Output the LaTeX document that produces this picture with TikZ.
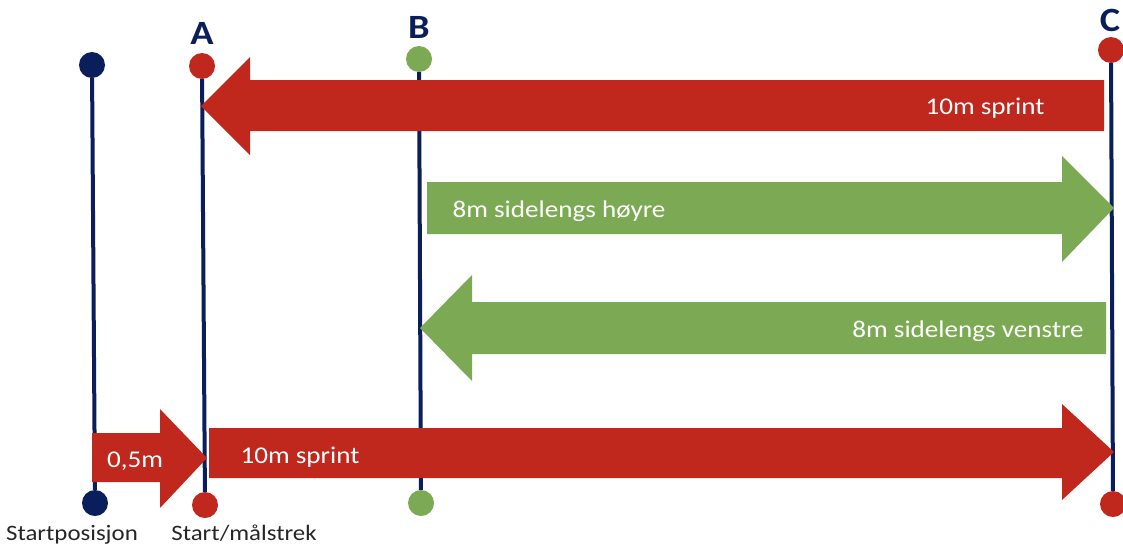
\documentclass[tikz,border=0pt]{standalone}
\usepackage{fontspec}
\setmainfont[FakeStretch=1.13]{Carlito}
\definecolor{navy}{RGB}{10,30,92}
\definecolor{runred}{RGB}{192,40,30}
\definecolor{rungreen}{RGB}{124,170,84}
\definecolor{labelgray}{RGB}{38,38,38}

\begin{document}
\begin{tikzpicture}[x=1pt,y=-1pt,
  dot/.style={circle,inner sep=0pt,minimum size=26pt},
  post/.style={draw=navy,line width=4pt},
  redarrow/.style={fill=runred,draw=none},
  greenarrow/.style={fill=rungreen,draw=none},
  arrowtext/.style={text=white,anchor=base,inner sep=0pt,font=\fontsize{24}{29}\selectfont},
  letter/.style={text=navy,anchor=base,inner sep=0pt,font=\bfseries\fontsize{34}{40}\selectfont},
  caption/.style={text=labelgray,anchor=base,inner sep=0pt,font=\fontsize{22}{26}\selectfont}]
\useasboundingbox (0,0) rectangle (1123,544);

% end points of the four posts
\node[dot,fill=navy]     (s0) at (92,65)   {};
\node[dot,fill=navy]     (s1) at (95,503)  {};
\node[dot,fill=runred]   (a0) at (202,66)  {};
\node[dot,fill=runred]   (a1) at (205,505) {};
\node[dot,fill=rungreen] (b0) at (419,59)  {};
\node[dot,fill=rungreen] (b1) at (421,503) {};
\node[dot,fill=runred]   (c0) at (1111,50) {};
\node[dot,fill=runred]   (c1) at (1113,504){};

% posts
\draw[post] (s0) -- (s1);
\draw[post] (a0) -- (a1);
\draw[post] (b0) -- (b1);
\draw[post] (c0) -- (c1);

% post letters
\node[letter] (la) at (202,44) {A};
\node[letter] (lb) at (419,38) {B};
\node[letter] (lc) at (1110,31) {C};

% 10 m sprint back to A
\fill[redarrow] (201,106) -- (250,57) -- (250,80) -- (1104,80) -- (1104,131)
  -- (250,131) -- (250,155) -- cycle;
\node[arrowtext] (t1) at (985,114) {10m sprint};

% sideways to the right
\fill[greenarrow] (427,182) -- (1062,182) -- (1062,156) -- (1114,208)
  -- (1062,262) -- (1062,234) -- (427,234) -- cycle;
\node[arrowtext] (t2) at (559,217) {8m sidelengs høyre};

% sideways to the left
\fill[greenarrow] (420,328) -- (472,275) -- (472,302) -- (1106,302)
  -- (1106,354) -- (472,354) -- (472,381) -- cycle;
\node[arrowtext] (t3) at (968,337) {8m sidelengs venstre};

% run-up of 0.5 m
\fill[redarrow] (92,433) -- (160,433) -- (160,409) -- (207,458)
  -- (160,508) -- (160,482) -- (92,482) -- cycle;
\node[arrowtext] (t4) at (135,467) {0,5m};

% 10 m sprint from A to C
\fill[redarrow] (209,428) -- (1062,428) -- (1062,404) -- (1114,452)
  -- (1062,500) -- (1062,478) -- (209,478) -- cycle;
\node[arrowtext] (t5) at (300,463) {10m sprint};

% captions under the posts
\node[caption] (cs) at (72,540)  {Startposisjon};
\node[caption] (ca) at (244,540) {Start/målstrek};
\end{tikzpicture}
\end{document}
